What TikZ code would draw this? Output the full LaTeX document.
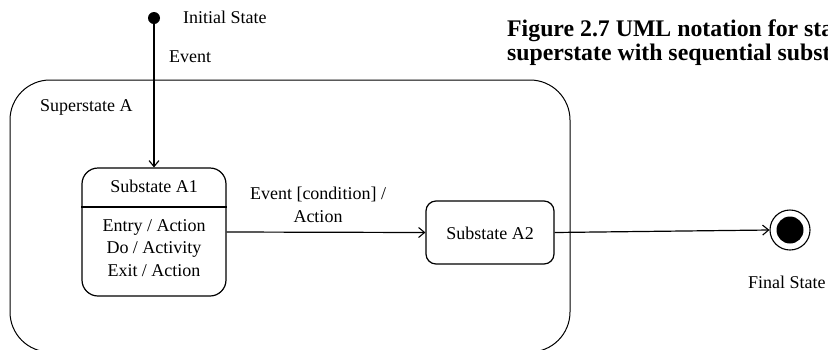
\documentclass[tikz,border=0pt]{standalone}
\usepackage{fontspec}
\setmainfont{Liberation Serif}
\usetikzlibrary{arrows.meta,calc}

\tikzset{
  lbl/.style={inner sep=0pt, font=\fontsize{18}{22.5}\selectfont},
  ttl/.style={inner sep=0pt, anchor=base west, font=\fontsize{23.8}{24}\selectfont\bfseries},
  initdot/.style={circle, fill=black, inner sep=0pt, minimum size=12pt},
  superbox/.style={draw, line width=1pt, rounded corners=40pt, inner sep=0pt},
  subbox/.style={draw, line width=1.2pt, inner sep=0pt},
  arr/.style={line width=1.2pt, -{Straight Barb[length=6pt,width=10pt,line width=1.1pt]}},
  finouter/.style={circle, draw, line width=1.1pt, inner sep=0pt, minimum size=40pt},
  fininner/.style={circle, fill=black, inner sep=0pt, minimum size=27pt},
}

\begin{document}
\begin{tikzpicture}[x=1pt,y=-1pt]
\clip (0,0) rectangle (828,349);

% caption, cut by the right edge
\node[ttl] (cap1) at (507,36) {Figure 2.7 UML notation for states:};
\node[ttl] (cap2) at (507,60) {superstate with sequential substates};

% superstate frame (its lower edge runs past the bottom)
\node[superbox, minimum width=560pt, minimum height=272pt] (sup) at (290,216) {};
\node[lbl, anchor=west] (suplbl) at (40,107) {Superstate A};

% initial pseudostate
\node[initdot] (init) at (154,18) {};
\node[lbl, anchor=west] (initlbl) at (183,17) {Initial State};
\node[lbl, anchor=west] (evlbl) at (169,57) {Event};

% substate A1 with its internal activities
\node[subbox, rounded corners=16pt, minimum width=144pt, minimum height=128pt] (a1) at (154,232) {};
\draw[line width=2pt] ($(a1.north west)+(0,40)$) -- ($(a1.north east)+(0,40)$);
\node[lbl] (a1name) at (154,186) {Substate A1};
\node[lbl, align=center] (a1act) at (154,248) {Entry / Action\\Do / Activity\\Exit / Action};

% substate A2
\node[subbox, rounded corners=10pt, minimum width=128pt, minimum height=63pt] (a2) at (490,232.5) {};
\node[lbl] (a2name) at (490,233) {Substate A2};

% final state
\node[finouter] (fin) at (790,230) {};
\node[fininner] (fincore) at (fin) {};
\node[lbl, anchor=west] (finlbl) at (748,282) {Final State};

% transitions
\draw[arr] (init) -- (a1.north);
\draw[arr] (a1.east) -- (a2.west);
\node[lbl, align=center] (trlbl) at (318,205) {Event [condition] /\\Action};
\draw[arr] (a2.east) -- (fin.west);
\end{tikzpicture}
\end{document}
